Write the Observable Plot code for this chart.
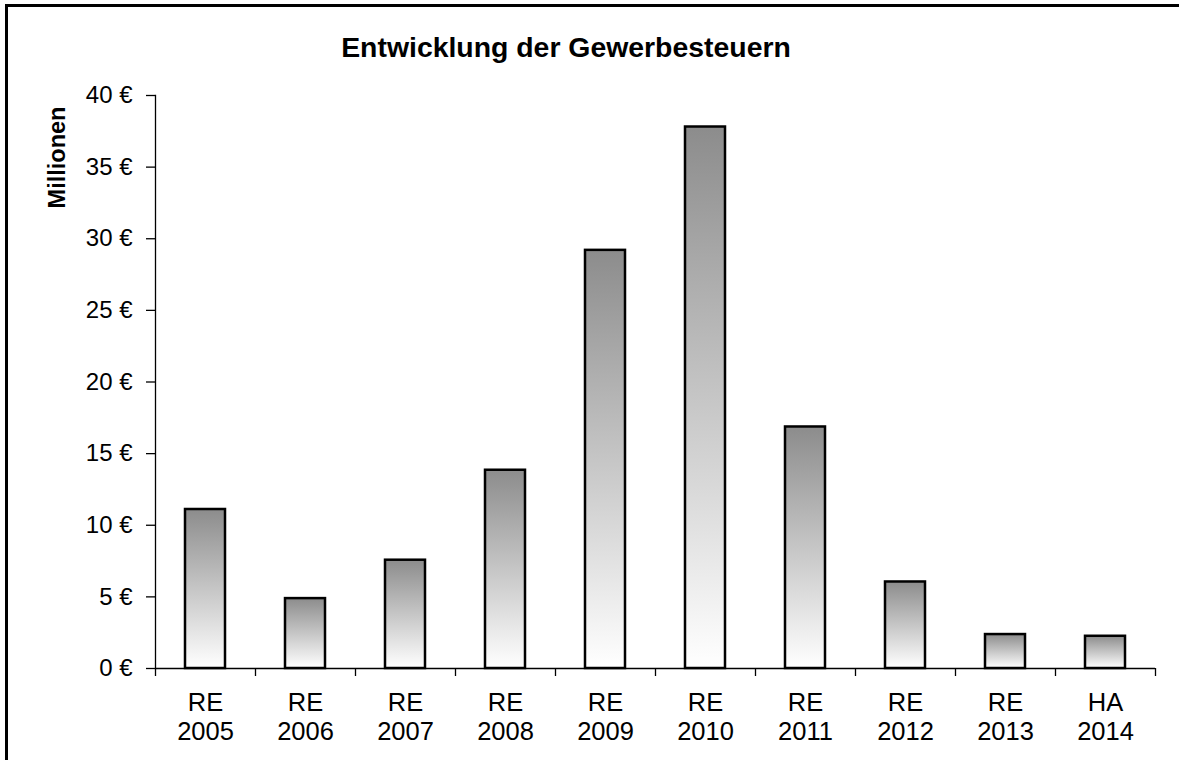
<!DOCTYPE html>
<html>
<head>
<meta charset="utf-8">
<script src="https://cdn.jsdelivr.net/npm/d3@7"></script>
<script src="https://cdn.jsdelivr.net/npm/@observablehq/plot@0.6"></script>
<style>
  html, body { margin: 0; padding: 0; background: #fff; overflow: hidden; }
  #wrap { position: relative; width: 1179px; height: 760px; }
  #border { position: absolute; left: 5px; top: 4px; width: 2000px; height: 2000px; border: 3px solid #000; pointer-events: none; }
  #title { height: 80px; box-sizing: border-box; padding-top: 33px; width: 1132px; text-align: center;
           font-family: "Liberation Sans", Arial, sans-serif; font-weight: bold; font-size: 28.4px; line-height: 1; color: #000; }
  #chart svg { display: block; }
</style>
</head>
<body>
<div id="wrap">
  <div id="title">Entwicklung der Gewerbesteuern</div>
  <div id="chart"></div>
  <div id="border"></div>
</div>
<script>
const categories = ["RE 2005", "RE 2006", "RE 2007", "RE 2008", "RE 2009", "RE 2010", "RE 2011", "RE 2012", "RE 2013", "HA 2014"];
const values = [11.1, 4.88, 7.56, 13.84, 29.19, 37.8, 16.86, 6.04, 2.37, 2.25];
const yTicks = [0, 5, 10, 15, 20, 25, 30, 35, 40];
const yLabel = "Millionen";

const data = categories.map((c, i) => ({cat: c, value: values[i]}));

const defs = () => {
  const d = d3.create("svg:defs");
  const g = d.append("linearGradient").attr("id", "barGrad").attr("x1", 0).attr("y1", 0).attr("x2", 0).attr("y2", 1);
  g.append("stop").attr("offset", "0%").attr("stop-color", "#8c8c8c");
  g.append("stop").attr("offset", "100%").attr("stop-color", "#ffffff");
  return d.node();
};

const chart = Plot.plot({
  width: 1179,
  height: 680,
  marginTop: 15,
  marginBottom: 92,
  marginLeft: 155,
  marginRight: 24,
  style: {fontFamily: "'Liberation Sans', Arial, sans-serif", color: "#000", background: "#fff", overflow: "visible"},
  x: {domain: categories, paddingInner: 0.6, paddingOuter: 0.3, label: null},
  y: {domain: [0, 40], label: null},
  marks: [
    defs,
    Plot.barY(data, {x: "cat", y: "value", fill: "url(#barGrad)", stroke: "#000", strokeWidth: 2.5}),
    Plot.frame({anchor: "left", stroke: "#000", strokeWidth: 1.3}),
    Plot.ruleY([0], {stroke: "#000", strokeWidth: 1.3}),
    Plot.axisY({ticks: yTicks, tickSize: 9, tickPadding: 14, tickFormat: d => `${d} €`, fontSize: 24, label: null, strokeWidth: 1.3}),
    Plot.axisX({tickSize: 0, tickPadding: 22, tickFormat: d => d.replace(" ", "\n"), fontSize: 25.5, lineHeight: 1.14, label: null}),
    Plot.axisX({tickSize: 8, tickFormat: () => "", dx: 50, label: null, strokeWidth: 1.3}),
    Plot.axisX({ticks: [categories[0]], tickSize: 8, tickFormat: () => "", dx: -50, label: null, strokeWidth: 1.3}),
    Plot.text([yLabel], {frameAnchor: "top-left", textAnchor: "middle", lineAnchor: "middle", rotate: -90, dx: -98, dy: 62, fontWeight: "bold", fontSize: 23.5, fill: "#000"})
  ]
});
document.getElementById("chart").appendChild(chart);
</script>
</body>
</html>
